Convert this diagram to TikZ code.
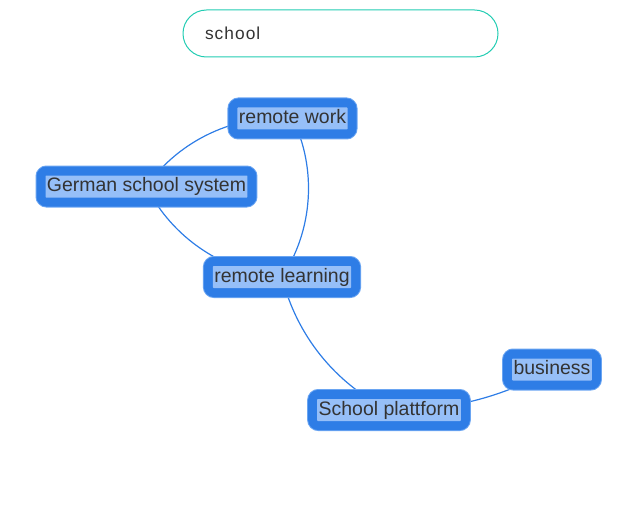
\documentclass[tikz,border=0pt]{standalone}
\usepackage{fontspec}
\setmainfont{Liberation Sans}
\newfontfamily\searchfont[LetterSpace=6]{Liberation Sans}
\usepackage{xcolor}
\usepackage{tikz}
\usetikzlibrary{backgrounds}
\definecolor{topicblue}{HTML}{2E7DE6}
\definecolor{topicrim}{HTML}{6AA5F2}
\definecolor{topicfill}{HTML}{96BFF8}
\definecolor{linkblue}{HTML}{2E7DE6}
\definecolor{searchrim}{HTML}{22CCB2}
\definecolor{inktext}{HTML}{333333}

\begin{document}
\begin{tikzpicture}[
  x=0.75pt,y=-0.75pt,
  topic/.style={fill=topicfill,text=inktext,font=\fontsize{14.6}{17}\selectfont,rounded corners=0.5pt,
    inner xsep=1.1pt,inner ysep=1.5pt,text height=10.5pt,text depth=3pt,
    preaction={draw=topicrim,line width=15pt,line join=round},
    preaction={draw=topicblue,line width=13.5pt,line join=round}},
  link/.style={draw=linkblue,line width=0.9pt,looseness=0.9},
  searchbox/.style={draw=searchrim,line width=0.75pt,rounded corners=17.6pt,minimum width=236.25pt,minimum height=35.25pt,
    inner xsep=16.5pt,text width=203.25pt,align=left,text=inktext,font=\searchfont\fontsize{13}{15}\selectfont}
]
\useasboundingbox (0,0) rectangle (643,510);

\node[searchbox] (query) at (340.5,33.5) {school};

\node[topic] (work) at (292.5,118.5) {remote work};
\node[topic] (german) at (146.5,186.5) {German school system};
\node[topic] (learning) at (282,277) {remote learning};
\node[topic] (platform) at (389,410) {School plattform};
\node[topic] (business) at (552,369.5) {business};

\begin{pgfonlayer}{background}
\draw[link] (german.center) to[bend left=30] (work.center);
\draw[link] (german.center) to[bend right=30] (learning.center);
\draw[link] (work.center) to[bend left=30] (learning.center);
\draw[link] (learning.center) to[bend right=25] (platform.center);
\draw[link] (platform.center) to[bend right=15] (business.center);
\end{pgfonlayer}
\end{tikzpicture}
\end{document}
